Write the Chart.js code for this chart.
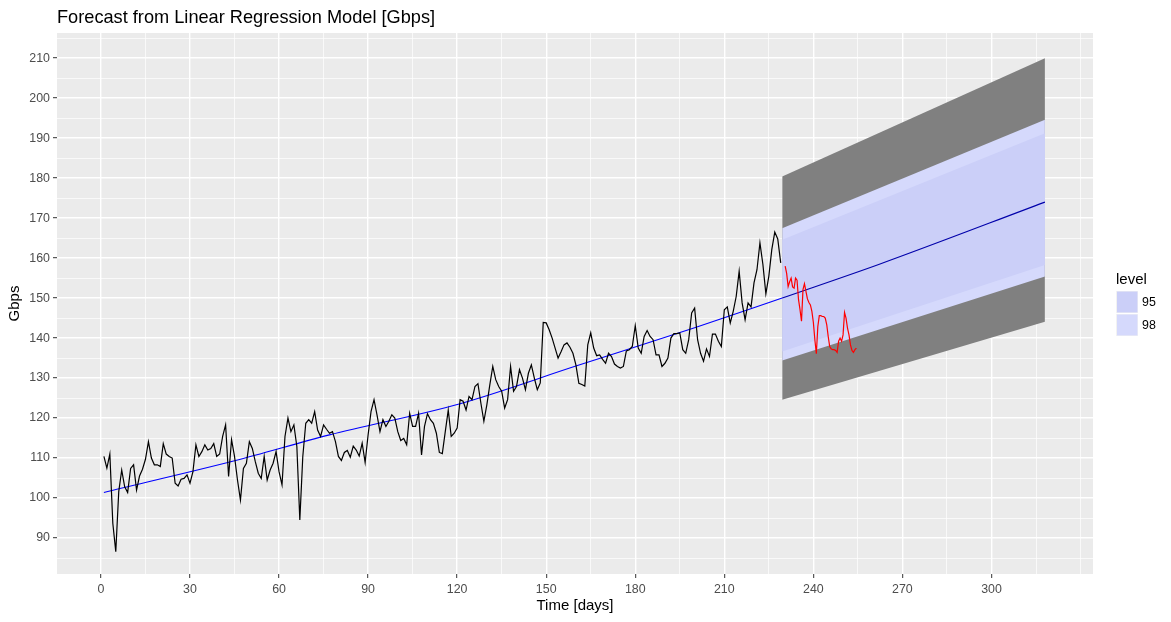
<!DOCTYPE html>
<html>
<head>
<meta charset="utf-8">
<title>Forecast from Linear Regression Model [Gbps]</title>
<script src="https://cdn.jsdelivr.net/npm/chart.js@4.4.1/dist/chart.umd.min.js"></script>
<style>
    html, body { margin: 0; padding: 0; background: #ffffff; }
    #wrap { width: 1171px; height: 622px; position: relative; }
</style>
</head>
<body>
<div id="wrap"><canvas id="chart-forecast" width="1171" height="622"></canvas></div>
<script>
// Observed traffic, one value per day starting at day 1
const obsStartDay = 1;
const obsValues = [
    110.4, 107.5, 111.0, 93.7, 86.6, 101.6, 107.0, 102.8, 101.4, 107.4,
    108.3, 102.0, 105.5, 107.2, 109.7, 114.1, 110.0, 108.3, 108.3, 107.9,
    113.6, 111.0, 110.4, 110.0, 103.7, 103.0, 104.7, 104.9, 105.8, 103.7,
    106.6, 113.3, 110.4, 111.6, 113.3, 112.0, 112.4, 113.6, 110.4, 111.0,
    115.4, 118.3, 105.4, 114.6, 110.4, 104.5, 99.5, 107.4, 108.7, 114.1,
    112.4, 109.1, 106.2, 104.9, 110.4, 104.5, 107.0, 108.7, 111.6, 106.6,
    103.3, 115.4, 120.0, 116.6, 118.3, 112.9, 94.5, 110.4, 118.7, 119.6,
    118.7, 121.6, 117.0, 115.4, 118.3, 117.2, 116.2, 116.6, 114.1, 110.4,
    109.4, 111.4, 111.9, 110.2, 113.0, 112.0, 110.5, 113.7, 108.9, 115.8,
    121.7, 124.6, 120.8, 116.6, 119.6, 117.9, 119.2, 120.8, 120.0, 116.6,
    114.4, 114.9, 113.3, 121.2, 117.9, 117.9, 121.2, 110.8, 117.9, 121.1,
    119.6, 118.7, 116.2, 111.4, 111.1, 116.6, 122.0, 115.4, 116.2, 117.5,
    124.6, 124.2, 122.0, 125.4, 124.6, 127.9, 128.6, 123.7, 119.2, 123.3,
    128.3, 132.9, 129.6, 127.9, 126.7, 122.5, 124.6, 132.9, 126.7, 127.9,
    132.1, 130.0, 127.1, 131.2, 133.3, 130.0, 127.1, 128.8, 143.9, 143.8,
    142.1, 140.0, 137.5, 135.0, 136.6, 138.3, 138.8, 137.7, 136.2, 133.3,
    128.7, 128.4, 128.0, 138.3, 141.3, 137.5, 135.6, 135.8, 134.7, 133.7,
    136.2, 135.4, 133.5, 132.9, 132.5, 132.9, 136.8, 137.1, 137.9, 143.1,
    137.5, 136.2, 140.4, 141.9, 140.4, 139.6, 135.8, 135.8, 132.9, 133.7,
    135.0, 140.0, 141.1, 141.1, 141.3, 137.1, 136.2, 139.6, 146.3, 147.5,
    139.6, 136.2, 134.2, 137.3, 135.4, 141.0, 141.0, 139.2, 137.9, 147.1,
    147.8, 143.8, 146.7, 150.4, 156.7, 148.8, 144.6, 148.8, 147.8, 153.8,
    157.1, 163.8, 158.4, 151.1, 155.5, 162.2, 166.5, 164.8, 158.8
];

// Actual values during the forecast window (half-day steps)
const testStartDay = 230.5;
const testStep = 0.5;
const testValues = [
    158.0, 156.2, 152.9, 154.1, 155.0, 152.8, 152.5, 155.0, 154.5, 149.6,
    147.1, 144.2, 152.1, 153.6, 151.7, 149.8, 148.9, 148.3, 146.7, 143.9,
    139.6, 136.1, 142.9, 145.6, 145.6, 145.4, 145.4, 145.0, 143.4, 140.4,
    137.9, 137.3, 137.1, 137.1, 136.9, 136.4, 139.2, 140.0, 139.2, 140.8,
    146.4, 145.0, 142.5, 140.8, 138.3, 136.9, 136.4, 137.1, 137.5
];

// Fitted regression line over the history
const fitDays = [1, 45, 77, 121, 160, 200, 229.5];
const fitValues = [101.4, 109.3, 115.8, 123.6, 133.0, 142.6, 150.0];

// Forecast mean and prediction bands
const fcDays = [229.5, 262, 318];
const fcMean = [150.0, 158.4, 174.0];
const bandDays = [229.5, 318];
const outerHi = [180.4, 210.0];
const outerLo = [124.6, 144.1];
const hi98 = [167.5, 194.6];
const lo98 = [134.4, 155.4];
const hi95 = [164.6, 191.25];
const lo95 = [136.65, 158.3];

const levelLabels = ['95', '98'];
const levelColors = ['#CBCFF8', '#D5D9FC'];

const xTickLabels = [0, 30, 60, 90, 120, 150, 180, 210, 240, 270, 300];
const yTickLabels = [90, 100, 110, 120, 130, 140, 150, 160, 170, 180, 190, 200, 210];

const FONT = '"Liberation Sans", Arial, sans-serif';
const pts = (xs, ys) => ys.map((v, i) => ({ x: xs[i], y: v }));

// Panel background + titles + legend (ggplot look)
const ggPlugin = {
    id: 'ggPlugin',
    beforeDraw(chart) {
        const { ctx, chartArea: a } = chart;
        ctx.save();
        ctx.fillStyle = '#ffffff';
        ctx.fillRect(0, 0, chart.width, chart.height);
        ctx.fillStyle = '#EBEBEB';
        ctx.fillRect(a.left, a.top, a.right - a.left, a.bottom - a.top);
        ctx.restore();
    },
    afterDraw(chart) {
        const { ctx, chartArea: a } = chart;
        ctx.save();
        ctx.fillStyle = '#000000';
        ctx.textBaseline = 'alphabetic';
        ctx.textAlign = 'left';
        ctx.font = `18.2px ${FONT}`;
        ctx.fillText('Forecast from Linear Regression Model [Gbps]', a.left, 22.5);

        ctx.font = `15px ${FONT}`;
        ctx.textAlign = 'center';
        ctx.textBaseline = 'middle';
        ctx.fillText('Time [days]', (a.left + a.right) / 2, 606);
        ctx.save();
        ctx.translate(15, (a.top + a.bottom) / 2);
        ctx.rotate(-Math.PI / 2);
        ctx.fillText('Gbps', 0, 0);
        ctx.restore();

        // legend
        ctx.textAlign = 'left';
        ctx.font = `15px ${FONT}`;
        ctx.fillText('level', 1116, 280);
        ctx.font = `12.4px ${FONT}`;
        levelLabels.forEach((lab, i) => {
            const y = 291 + i * 23;
            ctx.fillStyle = '#F2F2F2';
            ctx.fillRect(1116, y, 22, 22);
            ctx.fillStyle = levelColors[i];
            ctx.fillRect(1117, y + 0.5, 20.5, 21);
            ctx.fillStyle = '#000000';
            ctx.fillText(lab, 1142, y + 11.5);
        });
        ctx.restore();
    }
};

const isMajorX = v => xTickLabels.includes(v);
const isMajorY = v => yTickLabels.includes(v);

new Chart(document.getElementById('chart-forecast'), {
    type: 'line',
    data: {
        datasets: [
            { label: 'obs', data: pts(obsValues.map((_, i) => obsStartDay + i), obsValues), borderColor: '#000000', borderWidth: 1.2, order: 1 },
            { label: 'test', data: pts(testValues.map((_, i) => testStartDay + i * testStep), testValues), borderColor: '#FF0000', borderWidth: 1.2, order: 2 },
            { label: 'fit', data: pts(fitDays, fitValues), borderColor: '#0000FF', borderWidth: 1.1, cubicInterpolationMode: 'monotone', tension: 0.4, order: 3 },
            { label: 'mean', data: pts(fcDays, fcMean), borderColor: '#0000AA', borderWidth: 1.1, cubicInterpolationMode: 'monotone', tension: 0.4, order: 4 },
            { label: 'hi95', data: pts(bandDays, hi95), borderWidth: 0, borderColor: 'transparent', backgroundColor: levelColors[0], fill: '+1', order: 5 },
            { label: 'lo95', data: pts(bandDays, lo95), borderWidth: 0, borderColor: 'transparent', fill: false, order: 5 },
            { label: 'hi98', data: pts(bandDays, hi98), borderWidth: 0, borderColor: 'transparent', backgroundColor: levelColors[1], fill: '+1', order: 6 },
            { label: 'lo98', data: pts(bandDays, lo98), borderWidth: 0, borderColor: 'transparent', fill: false, order: 6 },
            { label: 'outerHi', data: pts(bandDays, outerHi), borderWidth: 0, borderColor: 'transparent', backgroundColor: '#808080', fill: '+1', order: 7 },
            { label: 'outerLo', data: pts(bandDays, outerLo), borderWidth: 0, borderColor: 'transparent', fill: false, order: 7 }
        ]
    },
    options: {
        responsive: false,
        animation: false,
        devicePixelRatio: 1,
        elements: { point: { radius: 0, hoverRadius: 0 }, line: { tension: 0 } },
        layout: { padding: { left: 0, top: 33, right: 78, bottom: 0 } },
        plugins: { legend: { display: false }, tooltip: { enabled: false }, title: { display: false } },
        events: [],
        scales: {
            x: {
                type: 'linear',
                min: -14.8,
                max: 334.2,
                afterFit: s => { s.height = 48; },
                border: { display: false },
                grid: {
                    color: '#FFFFFF',
                    lineWidth: c => isMajorX(c.tick.value) ? 1.4 : 0.7,
                    tickLength: 4,
                    tickColor: c => isMajorX(c.tick.value) ? '#333333' : 'transparent',
                    tickWidth: 1
                },
                ticks: {
                    stepSize: 15,
                    includeBounds: false,
                    autoSkip: false,
                    maxRotation: 0,
                    padding: 4,
                    color: '#4D4D4D',
                    font: { family: FONT, size: 12.4 },
                    callback: v => isMajorX(v) ? String(v) : ''
                }
            },
            y: {
                type: 'linear',
                min: 81,
                max: 216.3,
                afterFit: s => { s.width = 57; },
                border: { display: false },
                grid: {
                    color: '#FFFFFF',
                    lineWidth: c => isMajorY(c.tick.value) ? 1.4 : 0.7,
                    tickLength: 4,
                    tickColor: c => isMajorY(c.tick.value) ? '#333333' : 'transparent',
                    tickWidth: 1
                },
                ticks: {
                    stepSize: 5,
                    includeBounds: false,
                    autoSkip: false,
                    padding: 3,
                    color: '#4D4D4D',
                    font: { family: FONT, size: 12.4 },
                    callback: v => isMajorY(v) ? String(v) : ''
                }
            }
        }
    },
    plugins: [ggPlugin]
});
</script>
</body>
</html>
